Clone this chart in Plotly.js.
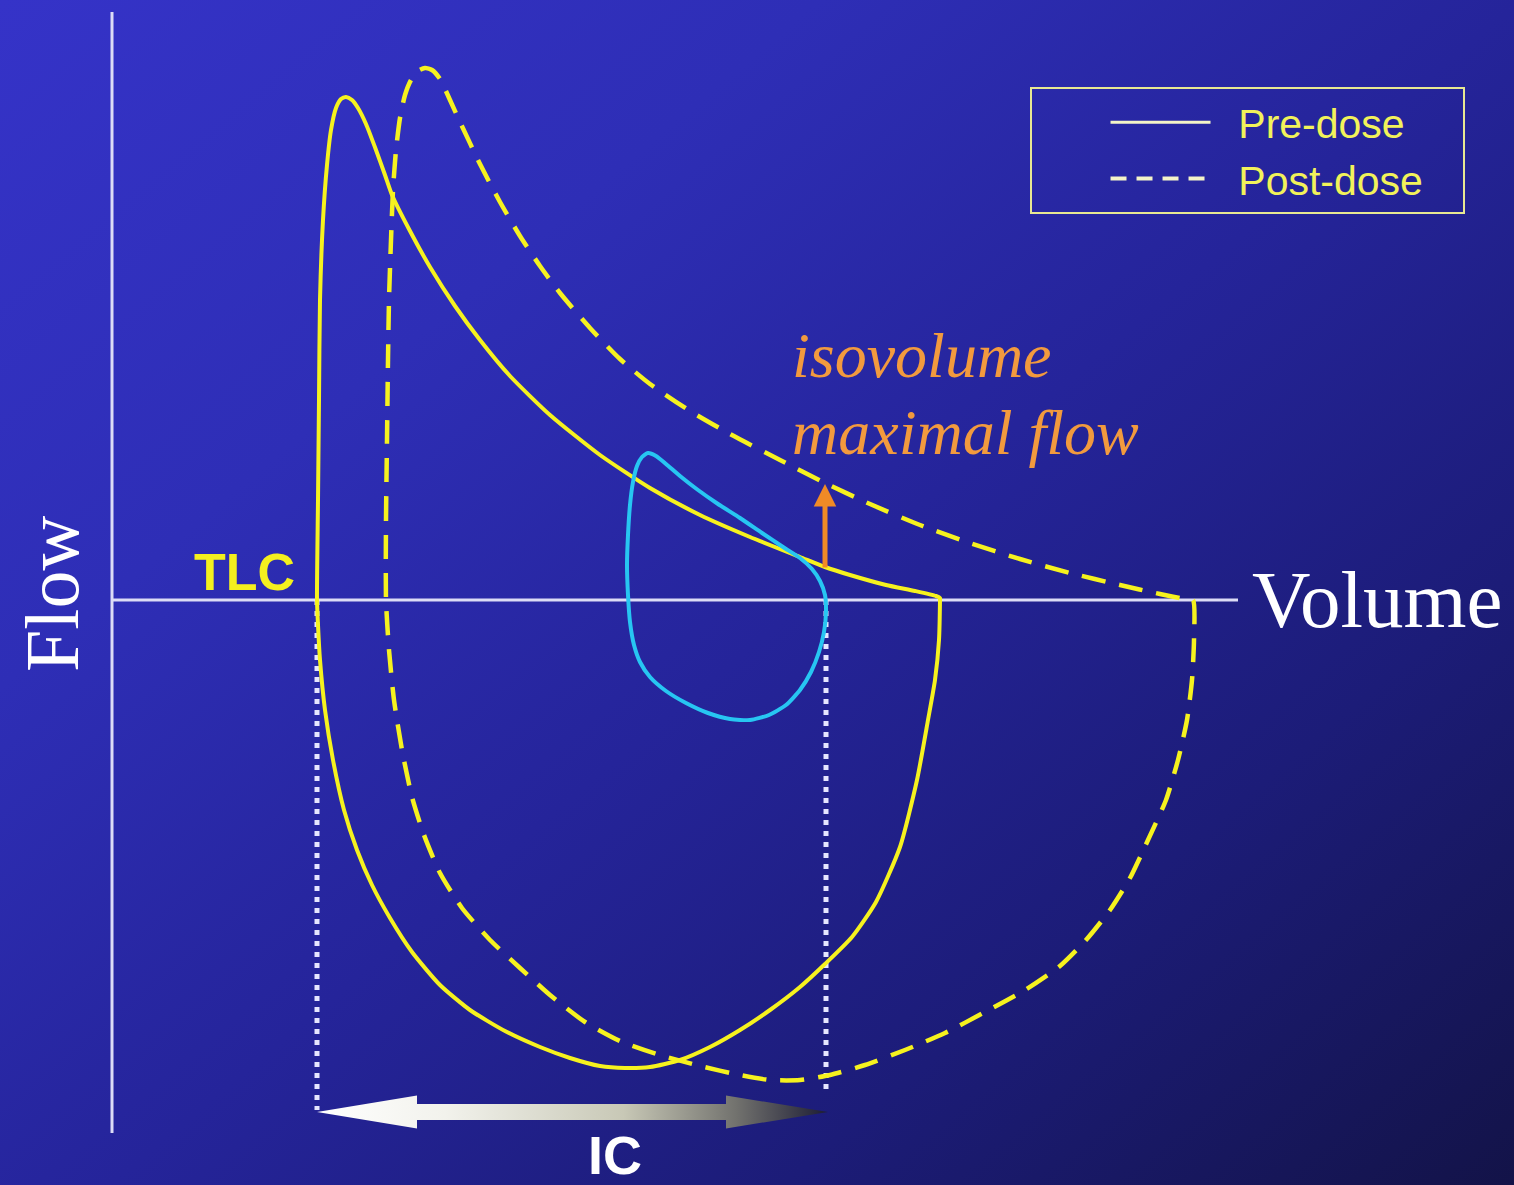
<!DOCTYPE html>
<html>
<head>
<meta charset="utf-8">
<script src="https://cdn.plot.ly/plotly-3.0.1.min.js"></script>
<style>
  html, body { margin: 0; padding: 0; overflow: hidden; }
  body {
    width: 1514px; height: 1185px;
    background: linear-gradient(140deg, #3533c8 0%, #2e2eb6 28%, #25249a 52%, #1c1c78 75%, #131348 100%);
  }
  #chart { width: 1514px; height: 1185px; }
</style>
</head>
<body>
<div id="chart"></div>
<script>
// ---- Data (volume in L from TLC, flow in L/s; expiration positive) ----
const preVol = [0, 0.01, 0.02, 0.03, 0.06, 0.10, 0.14, 0.19, 0.24, 0.29, 0.35, 0.41, 0.49, 0.59, 0.68, 0.75, 0.93, 1.13, 1.38, 1.63, 1.93, 2.33, 2.83, 3.33, 3.83, 4.33, 4.83, 5.08, 5.33, 5.69, 5.98, 6.19, 6.23, 6.23,
  6.22, 6.18, 6.11, 6.00, 5.83, 5.59, 5.35, 5.08, 4.83, 4.53, 4.23, 3.93, 3.63, 3.33, 3.08, 2.83, 2.53, 2.23, 1.88, 1.53, 1.23, 0.95, 0.73, 0.55, 0.40, 0.27, 0.16, 0.08, 0.03, 0.01, 0];
const preFlow = [0, 2.0, 4.0, 6.0, 7.6, 8.7, 9.4, 9.84, 10.02, 10.06, 10.0, 9.84, 9.52, 9.0, 8.5, 8.1, 7.38, 6.66, 5.88, 5.2, 4.48, 3.7, 2.9, 2.24, 1.7, 1.26, 0.86, 0.66, 0.5, 0.3, 0.18, 0.08, 0.04, 0,
  -0.8, -1.6, -2.4, -3.6, -4.94, -6.04, -6.74, -7.28, -7.74, -8.2, -8.6, -8.94, -9.2, -9.34, -9.36, -9.32, -9.16, -8.94, -8.62, -8.2, -7.7, -7.04, -6.36, -5.7, -5.0, -4.2, -3.2, -2.2, -1.2, -0.5, 0];

const postVol = [0.69, 0.69, 0.70, 0.71, 0.72, 0.74, 0.76, 0.79, 0.83, 0.88, 0.94, 1.01, 1.08, 1.15, 1.23, 1.33, 1.43, 1.63, 1.83, 2.03, 2.23, 2.43, 2.73, 3.03, 3.33, 3.73, 4.13, 4.63, 5.08, 5.53, 6.03, 6.53, 7.03, 7.53, 8.03, 8.43, 8.68, 8.76,
  8.77, 8.75, 8.70, 8.61, 8.49, 8.31, 8.13, 7.93, 7.69, 7.43, 7.08, 6.68, 6.28, 5.88, 5.48, 5.13, 4.83, 4.53, 4.23, 3.83, 3.43, 3.03, 2.68, 2.33, 2.03, 1.73, 1.45, 1.23, 1.07, 0.95, 0.85, 0.77, 0.72, 0.69];
const postFlow = [0, 1.6, 3.2, 4.8, 6.0, 7.2, 8.2, 9.0, 9.64, 10.1, 10.4, 10.58, 10.64, 10.6, 10.42, 10.0, 9.56, 8.72, 7.96, 7.28, 6.68, 6.14, 5.44, 4.82, 4.32, 3.78, 3.32, 2.8, 2.34, 1.92, 1.5, 1.14, 0.82, 0.54, 0.3, 0.12, 0.02, 0,
  -0.8, -1.6, -2.4, -3.2, -4.0, -4.8, -5.56, -6.2, -6.8, -7.32, -7.8, -8.24, -8.66, -9.0, -9.3, -9.5, -9.6, -9.6, -9.5, -9.32, -9.1, -8.82, -8.44, -7.9, -7.36, -6.8, -6.16, -5.46, -4.7, -3.94, -3.0, -2.0, -1.0, 0];

const tidalVol = [3.31, 3.39, 3.49, 3.63, 3.81, 4.01, 4.23, 4.45, 4.66, 4.83, 4.95, 5.03, 5.08, 5.09, 5.07, 5.02, 4.94, 4.83, 4.69, 4.52, 4.33, 4.13, 3.91, 3.69, 3.49, 3.33, 3.23, 3.17, 3.13, 3.11, 3.10, 3.11, 3.13, 3.16, 3.20, 3.25, 3.31];
const tidalFlow = [2.94, 2.88, 2.72, 2.48, 2.2, 1.92, 1.64, 1.34, 1.06, 0.84, 0.62, 0.38, 0.1, -0.24, -0.64, -1.04, -1.44, -1.8, -2.1, -2.3, -2.4, -2.38, -2.26, -2.06, -1.82, -1.54, -1.24, -0.9, -0.44, 0.1, 0.7, 1.3, 1.9, 2.36, 2.68, 2.86, 2.94];

// Key volumes / flows
const tlcVol = 0;            // total lung capacity
const eelvVol = 5.09;        // end-expiratory lung volume (tidal loop)
const icFlowLevel = -10.24;  // level of the IC arrow
const dropLeftFlow = -10.2;
const dropRightFlow = -9.84;
const isoVol = 5.08;
const isoPreFlow = 0.62;
const isoPostFlow = 2.32;

// Axis extents
const volAxisEnd = 9.21;
const flowAxisLow = -10.66;
const flowAxisHigh = 11.76;
const originVol = -2.05;

const labels = {
  pre: 'Pre-dose', post: 'Post-dose', flow: 'Flow', volume: 'Volume',
  tlc: 'TLC', ic: 'IC', iso1: 'isovolume', iso2: 'maximal flow'
};

// ---- Build IC double-arrow polygon from its end volumes ----
const headLen = 1.0, headHalf = 0.33, shaftHalf = 0.16;
const icX = [tlcVol, tlcVol + headLen, tlcVol + headLen, eelvVol - headLen, eelvVol - headLen, eelvVol + 0.02,
             eelvVol - headLen, eelvVol - headLen, tlcVol + headLen, tlcVol + headLen, tlcVol];
const icY = [icFlowLevel, icFlowLevel + headHalf, icFlowLevel + shaftHalf, icFlowLevel + shaftHalf, icFlowLevel + headHalf, icFlowLevel,
             icFlowLevel - headHalf, icFlowLevel - shaftHalf, icFlowLevel - shaftHalf, icFlowLevel - headHalf, icFlowLevel];

const YEL = '#f6f21e';
const AXC = '#dcdcf6';
const SM = 0.6;
const NB = '\u00a0';

const traces = [
  // axes
  {x: [originVol, volAxisEnd], y: [0, 0], mode: 'lines', line: {color: AXC, width: 3}, showlegend: false, hoverinfo: 'skip'},
  {x: [originVol, originVol], y: [flowAxisLow, flowAxisHigh], mode: 'lines', line: {color: AXC, width: 3}, showlegend: false, hoverinfo: 'skip'},
  // dotted drop lines
  {x: [tlcVol, tlcVol], y: [0, dropLeftFlow], mode: 'lines', line: {color: '#e6e6ff', width: 5, dash: '5px,6px'}, showlegend: false, hoverinfo: 'skip'},
  {x: [eelvVol, eelvVol], y: [0, dropRightFlow], mode: 'lines', line: {color: '#e6e6ff', width: 5, dash: '5px,6px'}, showlegend: false, hoverinfo: 'skip'},
  // loops
  {x: preVol, y: preFlow, mode: 'lines', line: {color: YEL, width: 4, shape: 'spline', smoothing: SM}, showlegend: false, hoverinfo: 'skip'},
  {x: postVol, y: postFlow, mode: 'lines', line: {color: YEL, width: 4.5, dash: '24px,14px', shape: 'spline', smoothing: SM}, showlegend: false, hoverinfo: 'skip'},
  {x: tidalVol, y: tidalFlow, mode: 'lines', line: {color: '#27c6f2', width: 4, shape: 'spline', smoothing: SM}, showlegend: false, hoverinfo: 'skip'},
  // IC arrow
  {x: icX, y: icY, mode: 'lines', fill: 'toself', line: {width: 0, color: 'rgba(0,0,0,0)'},
   fillgradient: {type: 'horizontal', colorscale: [[0, '#ffffff'], [0.25, '#f2f2ec'], [0.6, '#c8c8b6'], [0.82, '#72726e'], [1, '#1c1c34']]},
   showlegend: false, hoverinfo: 'skip'},
  // legend entries
  {x: [null], y: [null], mode: 'lines', name: NB + NB + labels.pre, line: {color: '#f4f4c8', width: 3}, showlegend: true},
  {x: [null], y: [null], mode: 'lines', name: NB + NB + labels.post + NB + NB + NB, line: {color: '#f4f4c8', width: 4, dash: '16px,10px'}, showlegend: true}
];

const layout = {
  width: 1514, height: 1185,
  margin: {l: 0, r: 0, t: 0, b: 0, pad: 0},
  paper_bgcolor: 'rgba(0,0,0,0)',
  plot_bgcolor: 'rgba(0,0,0,0)',
  xaxis: {range: [-3.17, 11.97], visible: false, fixedrange: true},
  yaxis: {range: [-11.7, 12], visible: false, fixedrange: true},
  showlegend: true,
  legend: {
    x: 0.680, y: 0.9265, xanchor: 'left', yanchor: 'top',
    bgcolor: 'rgba(0,0,0,0)', bordercolor: '#e8e892', borderwidth: 2,
    font: {family: 'Liberation Sans, Arial, sans-serif', size: 41, color: '#f2f25a'},
    itemwidth: 100, indentation: 74
  },
  annotations: [
    {x: isoVol, y: isoPostFlow, ax: isoVol, ay: isoPreFlow, axref: 'x', ayref: 'y', xref: 'x', yref: 'y',
     showarrow: true, arrowhead: 2, arrowsize: 0.9, arrowwidth: 5, arrowcolor: '#f08a26', text: ''},
    {x: 4.73, y: 4.9, xref: 'x', yref: 'y', xanchor: 'left', yanchor: 'middle', showarrow: false,
     text: '<i>' + labels.iso1 + '</i>', font: {family: 'Liberation Serif, Times New Roman, serif', size: 64, color: '#f29a3e'}},
    {x: 4.73, y: 3.36, xref: 'x', yref: 'y', xanchor: 'left', yanchor: 'middle', showarrow: false,
     text: '<i>' + labels.iso2 + '</i>', font: {family: 'Liberation Serif, Times New Roman, serif', size: 64, color: '#f29a3e'}},
    {x: -0.2, y: 0.56, xref: 'x', yref: 'y', xanchor: 'right', yanchor: 'middle', showarrow: false,
     text: '<b>' + labels.tlc + '</b>', font: {family: 'Liberation Sans, Arial, sans-serif', size: 52, color: '#f4f01e'}},
    {x: 9.33, y: 0, xref: 'x', yref: 'y', xanchor: 'left', yanchor: 'middle', showarrow: false,
     text: labels.volume, font: {family: 'Liberation Serif, Times New Roman, serif', size: 81, color: '#ffffff'}},
    {x: -2.65, y: 0.12, xref: 'x', yref: 'y', xanchor: 'center', yanchor: 'middle', showarrow: false, textangle: -90,
     text: labels.flow, font: {family: 'Liberation Serif, Times New Roman, serif', size: 76, color: '#ffffff'}},
    {x: 2.98, y: -11.1, xref: 'x', yref: 'y', xanchor: 'center', yanchor: 'middle', showarrow: false,
     text: '<b>' + labels.ic + '</b>', font: {family: 'Liberation Sans, Arial, sans-serif', size: 54, color: '#ffffff'}}
  ]
};

Plotly.newPlot('chart', traces, layout, {staticPlot: true, displayModeBar: false});
</script>
</body>
</html>
